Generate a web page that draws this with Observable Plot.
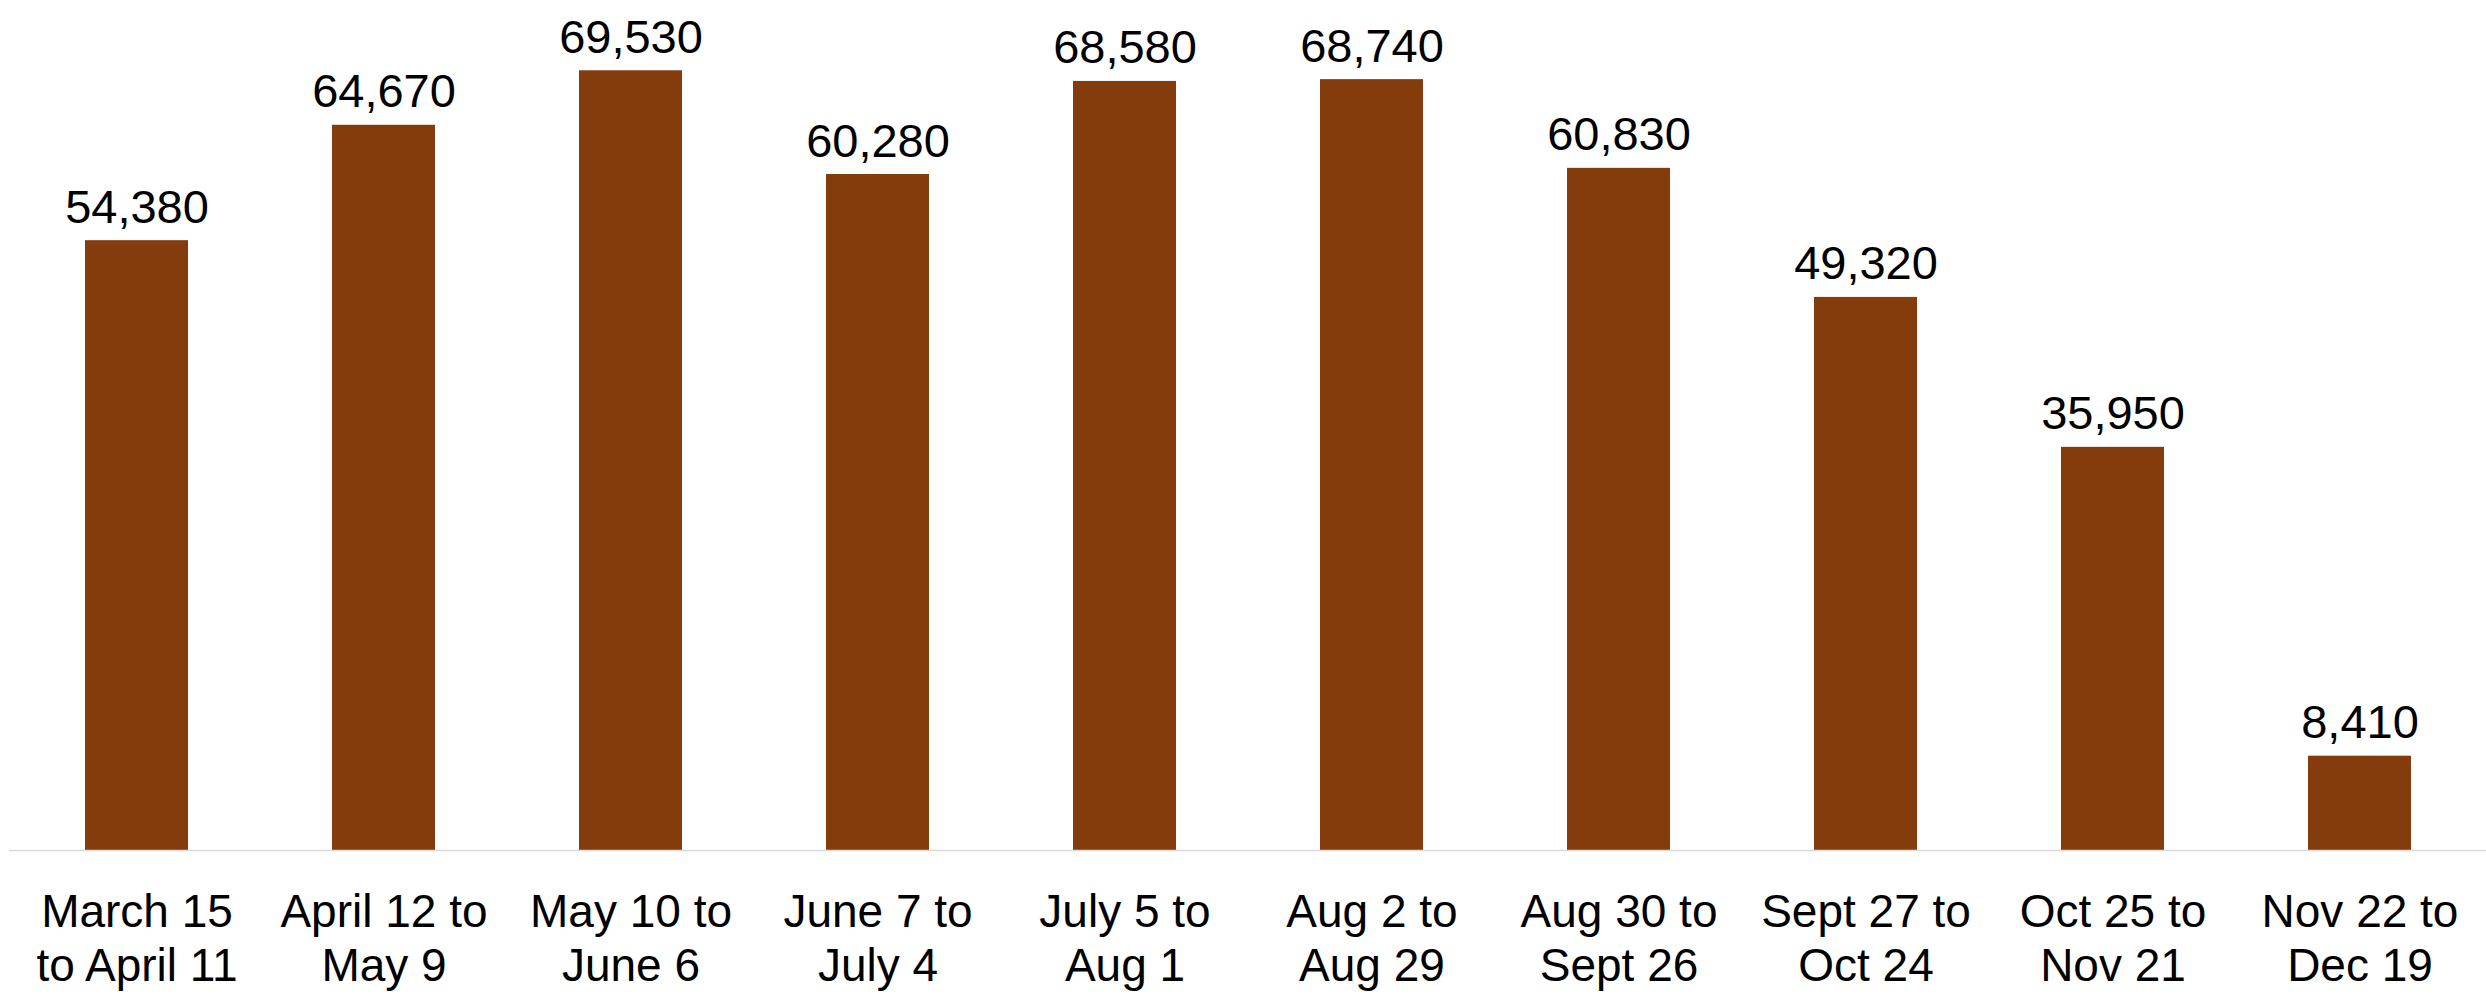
<!DOCTYPE html>
<html>
<head>
<meta charset="utf-8">
<script src="https://cdn.jsdelivr.net/npm/d3@7"></script>
<script src="https://cdn.jsdelivr.net/npm/@observablehq/plot@0.6"></script>
<style>
  html, body { margin: 0; padding: 0; background: #ffffff; }
  #chart svg { display: block; }
</style>
</head>
<body>
<div id="chart"></div>
<script>
const periods = [
  "March 15\nto April 11",
  "April 12 to\nMay 9",
  "May 10 to\nJune 6",
  "June 7 to\nJuly 4",
  "July 5 to\nAug 1",
  "Aug 2 to\nAug 29",
  "Aug 30 to\nSept 26",
  "Sept 27 to\nOct 24",
  "Oct 25 to\nNov 21",
  "Nov 22 to\nDec 19"
];
const counts = [54380, 64670, 69530, 60280, 68580, 68740, 60830, 49320, 35950, 8410];

const data = periods.map((p, i) => ({period: p, count: counts[i]}));

const chart = Plot.plot({
  width: 2486,
  height: 995,
  marginTop: 65,
  marginBottom: 145,
  marginLeft: 9,
  marginRight: 0,
  style: {fontFamily: "'Liberation Sans', Arial, sans-serif", fontSize: "47px", color: "#000", background: "#fff", overflow: "visible"},
  x: {domain: periods, paddingInner: 0.584, paddingOuter: 0.292, label: null},
  y: {domain: [0, 70000], axis: null},
  marks: [
    Plot.barY(data, {x: "period", y: "count", fill: "#843C0C"}),
    Plot.ruleY([0], {stroke: "#d9d9d9", strokeWidth: 1.5}),
    Plot.text(data, {x: "period", y: "count", text: d => d3.format(",")(d.count), lineAnchor: "bottom", dy: -18, fontSize: 47, fill: "#000"}),
    Plot.axisX({tickSize: 0, tickPadding: 38, fontSize: 46, lineHeight: 1.17, label: null, fill: "#000"})
  ]
});
document.getElementById("chart").appendChild(chart);
</script>
</body>
</html>
